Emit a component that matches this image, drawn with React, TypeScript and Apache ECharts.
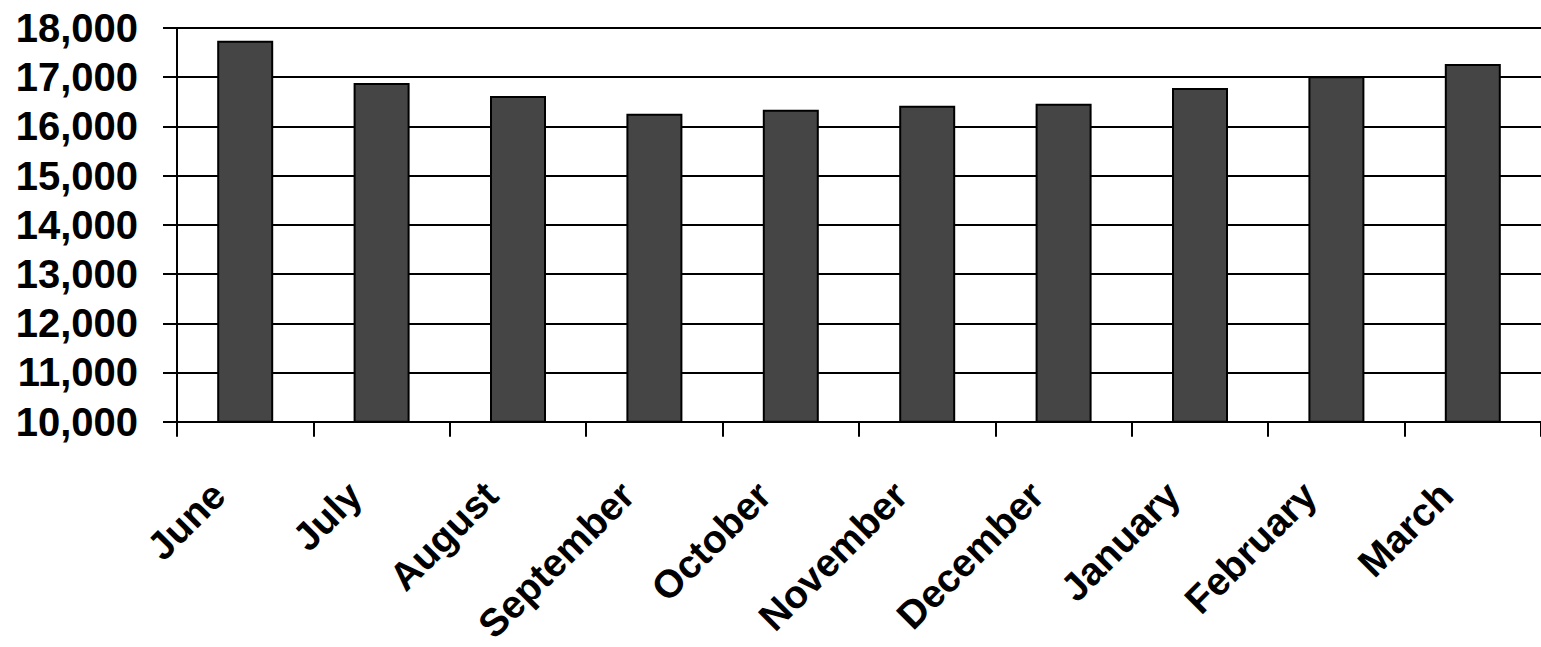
import React, { useEffect, useRef } from "react";
import * as echarts from "echarts";

const categories = ["June", "July", "August", "September", "October", "November", "December", "January", "February", "March"];
const values = [17740, 16880, 16620, 16260, 16340, 16420, 16460, 16780, 17020, 17270];
const yTicks = { min: 10000, max: 18000, interval: 1000 };

export default function App() {
  const ref = useRef<HTMLDivElement>(null);
  useEffect(() => {
    if (!ref.current) return;
    const chart = echarts.init(ref.current, null, { renderer: "svg" });
    const font = "'Liberation Sans', Arial, Helvetica, sans-serif";
    chart.setOption({
      animation: false,
      backgroundColor: "#ffffff",
      grid: { left: 177, top: 28, width: 1373, height: 397, containLabel: false },
      xAxis: {
        type: "category",
        data: categories,
        boundaryGap: true,
        axisLine: { show: true, lineStyle: { color: "#000", width: 2 } },
        axisTick: { show: true, alignWithLabel: false, length: 15, lineStyle: { color: "#000", width: 2 } },
        axisLabel: {
          interval: 0,
          rotate: 45,
          margin: 40,
          padding: [0, 38, 0, 0],
          color: "#000",
          fontFamily: font,
          fontWeight: "bold",
          fontSize: 39,
        },
        splitLine: { show: false },
      },
      yAxis: {
        type: "value",
        min: yTicks.min,
        max: yTicks.max,
        interval: yTicks.interval,
        axisLine: { show: true, lineStyle: { color: "#000", width: 2 } },
        axisTick: { show: true, inside: false, length: 14, lineStyle: { color: "#000", width: 2 } },
        axisLabel: {
          margin: 39,
          color: "#000",
          fontFamily: font,
          fontWeight: "bold",
          fontSize: 40,
          formatter: (v: number) => v.toLocaleString("en-US"),
        },
        splitLine: { show: true, lineStyle: { color: "#000", width: 2 } },
      },
      series: [
        {
          type: "bar",
          data: values,
          barWidth: 56,
          itemStyle: { color: "#454545", borderColor: "#000", borderWidth: 2 },
        },
      ],
    });
    return () => chart.dispose();
  }, []);
  return <div ref={ref} style={{ position: "absolute", left: 0, top: 0, width: 1541, height: 647 }} />;
}
